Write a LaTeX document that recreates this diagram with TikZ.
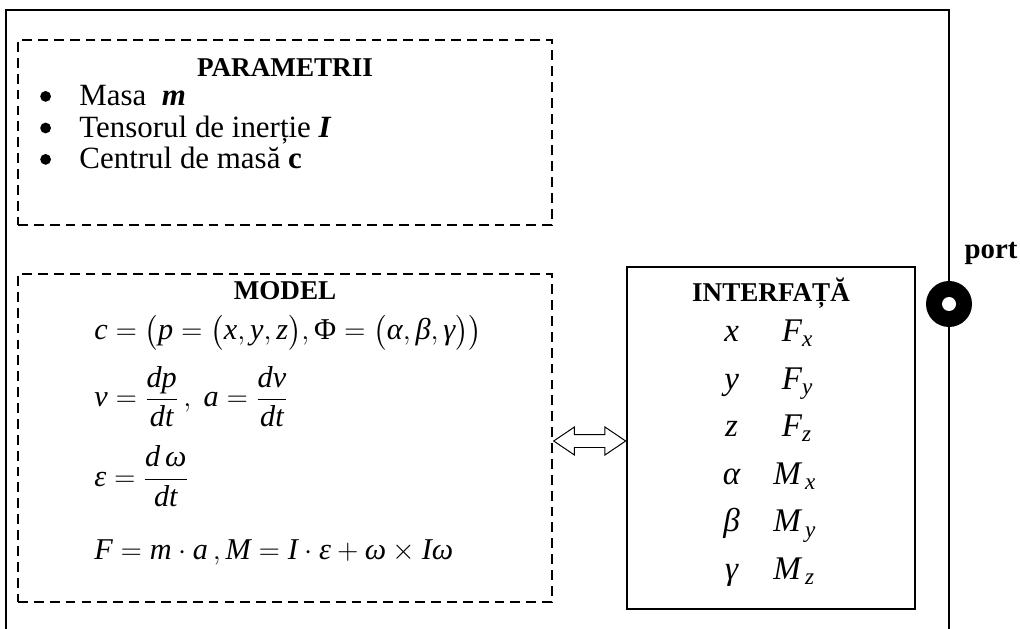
\documentclass[tikz,border=0pt]{standalone}
\usepackage{amsmath}
\usepackage{fontspec}
\setmainfont{Liberation Serif}
\usetikzlibrary{shapes.arrows, positioning, calc}

% italic letters in formulas, taken from the text font
\newcommand{\vi}[1]{\text{\itshape #1}}

\tikzset{
  dashbox/.style={draw, line width=1.8pt, dash pattern=on 7pt off 4.3pt, inner sep=0pt},
  solidbox/.style={draw, line width=1.3pt, inner sep=0pt},
  txt/.style={inner sep=0pt, anchor=base west, font=\fontsize{22}{26}\selectfont},
  eqn/.style={inner sep=0pt, anchor=base west, font=\fontsize{21.5}{26}\selectfont},
  sym/.style={inner sep=0pt, anchor=base, font=\fontsize{23.5}{28}\selectfont},
  symr/.style={inner sep=0pt, anchor=base west, font=\fontsize{23.5}{28}\selectfont},
  head/.style={inner sep=0pt, anchor=base, font=\fontsize{19.3}{23}\selectfont\bfseries},
  dot/.style={circle, fill=black, inner sep=0pt, minimum size=0.27cm},
  dblarrow/.style={draw, line width=0.7pt, double arrow, inner xsep=0pt, inner ysep=0.15cm,
    double arrow head extend=0.1875cm, double arrow tip angle=68, minimum height=1.8cm},
}

\begin{document}
\begin{tikzpicture}
    \useasboundingbox (0,0) rectangle (25.5,15.7);

    % Outer frame (open at the bottom)
    \draw[line width=1.7pt] (0.15,-0.3) -- (0.15,15.45) -- (23.725,15.45) -- (23.725,-0.3);

    % Parameters block
    \node[dashbox, minimum width=13.35cm, minimum height=4.625cm] (param) at (7.125,12.3875) {};
    \node[head] (paramtitle) at (7.125,13.775) {PARAMETRII};
    \node[dot] (b1) at (1.14,13.29) {};
    \node[txt] (masa) at (1.98,13.05) {Masa \ \textbf{\textit{m}}};
    \node[dot] (b2) at (1.14,12.5) {};
    \node[txt] (tensor) at (1.98,12.26) {Tensorul de inerție \textbf{\textit{I}}};
    \node[dot] (b3) at (1.14,11.715) {};
    \node[txt] (centru) at (1.98,11.475) {Centrul de masă \textbf{c}};

    % Model block
    \node[dashbox, minimum width=13.35cm, minimum height=8.2cm] (model) at (7.125,4.75) {};
    \node[head] (modeltitle) at (7.125,8.2) {MODEL};
    \node[eqn] (eqc) at (2.35,7.2) {$\vi{c}=\bigl(\vi{p}=\bigl(\vi{x},\vi{y},\vi{z}\bigr),\text{Φ}=\bigl(\vi{α},\vi{β},\vi{γ}\bigr)\bigr)$};
    \node[eqn] (eqv) at (2.35,5.53) {$\vi{v}=\dfrac{\vi{dp}}{\vi{dt}}\,,\ \vi{a}=\dfrac{\vi{dv}}{\vi{dt}}$};
    \node[eqn] (eqe) at (2.35,3.54) {$\vi{ε}=\dfrac{\vi{d\,ω}}{\vi{dt}}$};
    \node[eqn] (eqf) at (2.35,1.72) {$\vi{F}=\vi{m}\cdot\vi{a}\,,\vi{M}=\vi{I}\cdot\vi{ε}+\vi{ω}\times\vi{Iω}$};

    % Interface block
    \node[solidbox, minimum width=7.2cm, minimum height=8.55cm] (iface) at (19.275,4.75) {};
    \node[head] (ifacetitle) at (19.275,8.15) {INTERFAȚĂ};
    \node[sym] (qx) at (18.29,7.1625) {\itshape x};  \node[symr] (fx) at (19.54,7.1625) {$\vi{F}_{\vi{x}}$};
    \node[sym] (qy) at (18.29,5.9725) {\itshape y}; \node[symr] (fy) at (19.54,5.9725) {$\vi{F}_{\vi{y}}$};
    \node[sym] (qz) at (18.29,4.7825) {\itshape z}; \node[symr] (fz) at (19.54,4.7825) {$\vi{F}_{\vi{z}}$};
    \node[sym] (qa) at (18.29,3.5925) {\itshape α}; \node[symr] (mx) at (19.33,3.5925) {$\vi{M}_{\,\vi{x}}$};
    \node[sym] (qb) at (18.29,2.4025) {\itshape β}; \node[symr] (my) at (19.33,2.4025) {$\vi{M}_{\,\vi{y}}$};
    \node[sym] (qg) at (18.29,1.2125) {\itshape γ}; \node[symr] (mz) at (19.33,1.2125) {$\vi{M}_{\,\vi{z}}$};

    % Link between model and interface
    \node[dblarrow] (link) at ($(model.east)!0.5!(iface.west)+(0,-0.075)$) {};

    % Port on the frame
    \node[circle, fill=black, minimum size=1.15cm, inner sep=0pt] (port) at (23.725,8.1) {};
    \fill[white] (port.center) circle (0.175);
    \node[inner sep=0pt, anchor=base, font=\fontsize{20.5}{24}\selectfont\bfseries] (portlabel) at (24.775,9.225) {port};
\end{tikzpicture}
\end{document}
